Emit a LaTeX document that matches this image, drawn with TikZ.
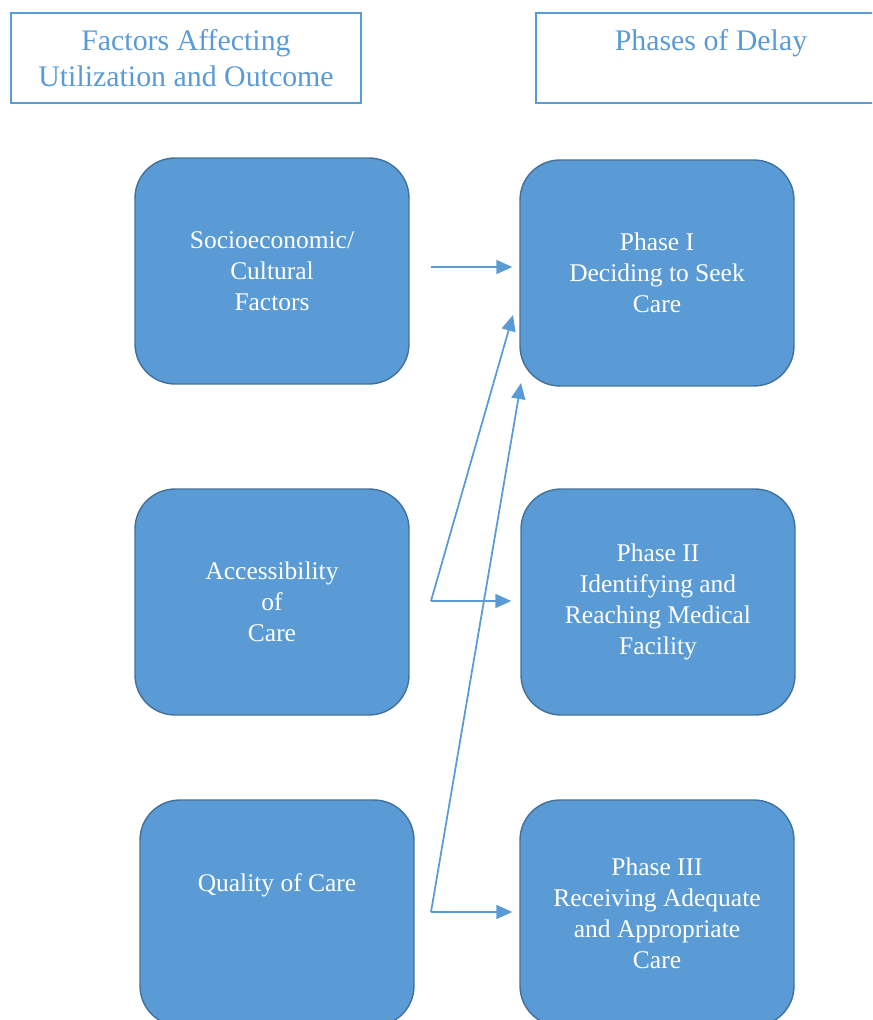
\documentclass[tikz,border=0pt]{standalone}
\usepackage{fontspec}
\setmainfont{Liberation Serif}
\usetikzlibrary{arrows.meta}
\definecolor{boxblue}{HTML}{5B9BD5}
\definecolor{edgeblue}{HTML}{41719C}

\begin{document}
\begin{tikzpicture}[x=0.02cm,y=-0.02cm,
	factor/.style={draw=edgeblue,fill=boxblue,line width=0.8pt,rounded corners=0.8cm,
		minimum width=5.48cm,minimum height=4.52cm,text=white,align=center,
		font=\fontsize{14.5}{17.6}\selectfont},
	header/.style={draw=boxblue,line width=1.4pt,minimum width=7cm,minimum height=1.8cm,
		text=boxblue,align=center,font=\fontsize{17}{20.5}\selectfont},
	link/.style={draw=boxblue,line width=1pt,-{Triangle[length=0.32cm,width=0.28cm]}}]
	\useasboundingbox (0,0) rectangle (872,1020);
	\clip (0,0) rectangle (872,1020);

	% headers
	\node[header] (hfac) at (186,58) {Factors Affecting\\Utilization and Outcome};
	\node[header] (hdel) at (711,58) {Phases of Delay\\~};

	% left column
	\node[factor] (socio) at (272,271) {Socioeconomic/\\Cultural\\Factors};
	\node[factor] (access) at (272,602) {Accessibility\\of\\Care};
	\node[factor] (quality) at (277,913) {Quality of Care\\~\\~};

	% right column
	\node[factor] (ph1) at (657,273) {Phase I\\Deciding to Seek\\Care};
	\node[factor] (ph2) at (658,602) {Phase II\\Identifying and\\Reaching Medical\\Facility};
	\node[factor] (ph3) at (657,913) {Phase III\\Receiving Adequate\\and Appropriate\\Care};

	\coordinate (s1) at (431,267);
	\coordinate (s2) at (431,601);
	\coordinate (s3) at (431,912);
	\coordinate (t2) at (513,315);
	\coordinate (t3) at (521,383);

	\draw[link,shorten >=0.14cm] (s1) -- (s1 -| ph1.west);
	\draw[link,shorten >=0.18cm] (s2) -- (s2 -| ph2.west);
	\draw[link] (s2) -- (t2);
	\draw[link,shorten >=0.14cm] (s3) -- (s3 -| ph3.west);
	\draw[link] (s3) -- (t3);
\end{tikzpicture}
\end{document}
